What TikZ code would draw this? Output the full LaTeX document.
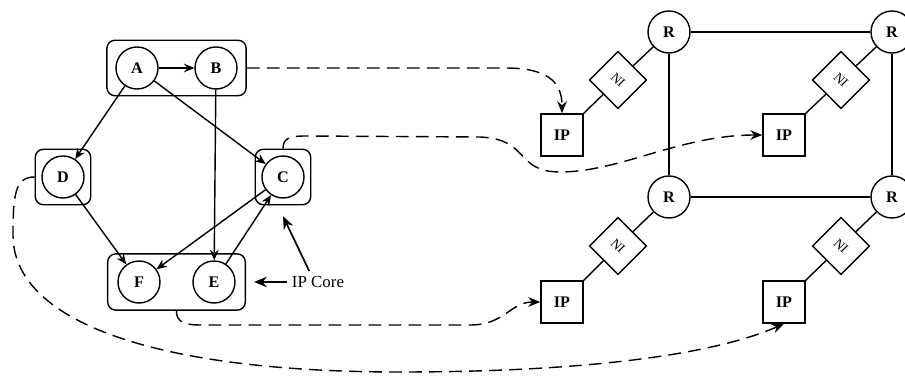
\documentclass[tikz,border=0pt]{standalone}
\usepackage{fontspec}
\setmainfont{Liberation Serif}
\usetikzlibrary{arrows.meta,fit}
\tikzset{
  task/.style={draw,circle,minimum size=1.05cm,inner sep=0pt,font=\fontsize{11.5}{13}\selectfont\bfseries},
  grp/.style={draw,rounded corners=0.2cm,inner sep=0.15cm},
  router/.style={draw,circle,minimum size=1.05cm,inner sep=0pt,font=\fontsize{11.5}{13}\selectfont\bfseries},
  ni/.style={draw,rectangle,minimum size=1cm,inner sep=0pt,rotate=-45,font=\fontsize{9.5}{10}\selectfont},
  ipbox/.style={draw,rectangle,minimum size=1.05cm,inner sep=0pt,font=\fontsize{11.5}{13}\selectfont\bfseries},
  edge/.style={-{Stealth[length=2.6mm,width=2.2mm]}},
  flow/.style={dashed,dash pattern=on 3.2mm off 1.8mm,-{Stealth[length=3mm,width=2.4mm]}},
  note/.style={line width=1.2pt,-{Stealth[length=3.2mm,width=2.6mm]}}
}
\begin{document}
\begin{tikzpicture}[x=0.025cm,y=-0.025cm,line width=1pt]
    \useasboundingbox (0,0) rectangle (905,379);

    % left: task graph
    \node[task] (A) at (137,68) {A};
    \node[task] (B) at (216,68) {B};
    \node[task] (D) at (63,177) {D};
    \node[task] (C) at (283,177) {C};
    \node[task] (F) at (139,282) {F};
    \node[task] (E) at (214,282) {E};

    \node[grp,fit=(A)(B),inner xsep=0.21cm] (ABbox) {};
    \node[grp,fit=(D)] (Dbox) {};
    \node[grp,fit=(C)] (Cbox) {};
    \node[grp,fit=(F)(E),inner xsep=0.24cm,inner ysep=0.16cm] (FEbox) {};

    \draw[edge] (A) -- (B);
    \draw[edge] (A) -- (D);
    \draw[edge] (A) -- (C);
    \draw[edge] (B) -- (E);
    \draw[edge] (D) -- (F);
    \draw[edge] (C) -- (F);
    \draw[edge] (E) -- (C);

    \node[font=\fontsize{12}{14}\selectfont] (core) at (318,282) {IP Core};
    \draw[note] (core.west) -- ([xshift=0.2cm]FEbox.east);
    \draw[note] ([xshift=-0.22cm]core.north) -- ([yshift=-0.27cm]Cbox.south);

    % right: mesh
    \node[router] (R1) at (669,32) {R};
    \node[router] (R2) at (892,32) {R};
    \node[router] (R3) at (669,197) {R};
    \node[router] (R4) at (892,197) {R};
    \draw (R1) -- (R2);
    \draw (R1) -- (R3);
    \draw (R2) -- (R4);
    \draw (R3) -- (R4);

    \foreach \i/\x/\y in {1/618/80,2/841/80,3/618/246,4/841/246} {
        \node[ni] (NI\i) at (\x,\y) {NI};
    }
    \node[ipbox] (IP1) at (562,135) {IP};
    \node[ipbox] (IP2) at (784,135) {IP};
    \node[ipbox] (IP3) at (562,302) {IP};
    \node[ipbox] (IP4) at (784,302) {IP};
    \foreach \i in {1,...,4} {
        \draw (R\i) -- (NI\i);
        \draw (NI\i) -- (IP\i.north east);
    }

    % mapping
    \draw[flow] (ABbox.east) -- (505,68) .. controls (545,68) and (562,80) .. (IP1.north);
    \draw[flow] (Cbox.north) .. controls (283,138) and (290,136) .. (305,136) -- (480,137)
        .. controls (530,139) and (515,172) .. (560,172)
        .. controls (620,172) and (680,135) .. (IP2.west);
    \draw[flow] (FEbox.south) .. controls (176,322) and (185,325) .. (200,325) -- (470,325)
        .. controls (505,325) and (510,302) .. (IP3.west);
    \draw[flow] (Dbox.west) .. controls (15,177) and (13,195) .. (13,235)
        .. controls (13,320) and (150,372) .. (400,372)
        .. controls (600,372) and (720,352) .. (IP4.south);
\end{tikzpicture}
\end{document}
